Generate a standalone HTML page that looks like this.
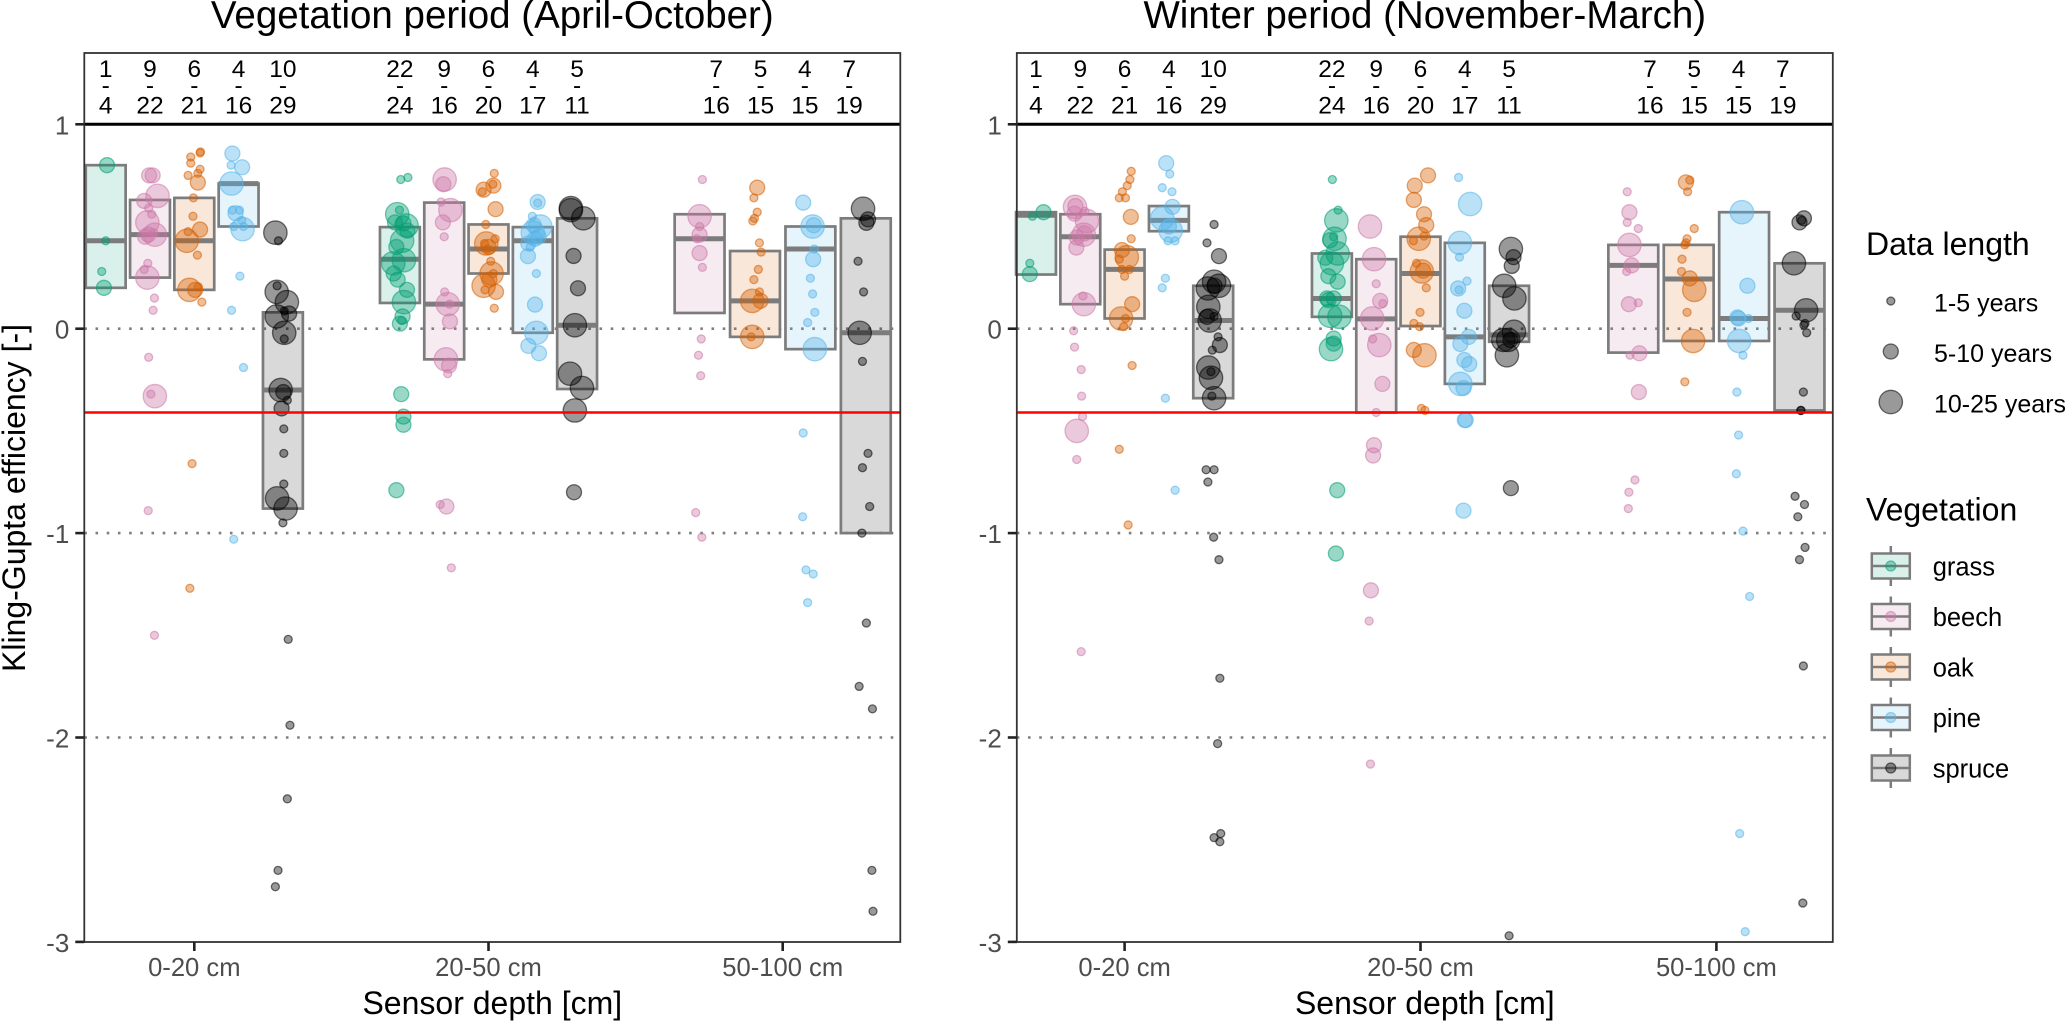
<!DOCTYPE html>
<html lang="en">
<head>
<meta charset="utf-8">
<title>Kling-Gupta efficiency by sensor depth and vegetation</title>
<style>
html,body{margin:0;padding:0;background:#fff;}
svg{display:block;font-family:"Liberation Sans",Arial,sans-serif;}
</style>
</head>
<body>
<svg id="chart" xmlns="http://www.w3.org/2000/svg" width="2067" height="1021" viewBox="0 0 2067 1021"></svg>
<script>
/* ---------- categories, ticks and labels ---------- */
const depthLabels = ['0-20 cm', '20-50 cm', '50-100 cm'];
const vegetation = ['grass', 'beech', 'oak', 'pine', 'spruce'];
const vegColors = ['#009E73', '#CC79A7', '#D55E00', '#56B4E9', '#000000'];
const yTickValues = [1, 0, -1, -2, -3];
const dottedRefs = [0, -1, -2];
const kgeBenchmark = -0.41;
const kgeMax = 1;
const lengthLabels = ['1-5 years', '5-10 years', '10-25 years'];
const boxDepth = [0,0,0,0,0, 1,1,1,1,1, 2,2,2,2];
const boxVeg = [0,1,2,3,4, 0,1,2,3,4, 1,2,3,4];
const nLow = [1,9,6,4,10, 22,9,6,4,5, 7,5,4,7];
const nHigh = [4,22,21,16,29, 24,16,20,17,11, 16,15,15,19];

/* ---------- box statistics ---------- */
const vp_q3 = [.80,.63,.64,.71,.08, .497,.617,.51,.497,.54, .56,.38,.50,.54];
const vp_med = [.43,.46,.43,.71,-.30, .34,.12,.39,.43,.017, .44,.136,.39,-.02];
const vp_q1 = [.20,.25,.19,.50,-.88, .126,-.15,.27,-.02,-.295, .077,-.04,-.10,-1.0];
const wp_q3 = [.57,.56,.387,.60,.21, .368,.34,.45,.42,.21, .41,.41,.57,.32];
const wp_med = [.555,.45,.29,.53,.04, .148,.048,.27,-.04,-.03, .31,.243,.05,.09];
const wp_q1 = [.265,.12,.05,.477,-.34, .058,-.41,.013,-.27,-.064, -.117,-.06,-.06,-.40];

/* ---------- site values: kge, jitter (% of a dodge slot), data-length class ---------- */
const vp_d1_grass_kge = [.80,.43,.28,.20];
const vp_d1_grass_jit = [3,0,-9,-4];
const vp_d1_grass_len = [2,1,1,2];
const vp_d1_beech_kge = [.75,.75,.65,.625,.59,.56,.52,.46,.45,.46,.47,.32,.29,.25,.15,.09,-.14,-.33,-.32,-.89,-1.5];
const vp_d1_beech_jit = [-2,6,17,-13,-3,4,-6,11,-11,-4,9,-5,-13,-6,10,7,-3,11,2,-4,10];
const vp_d1_beech_len = [2,2,3,2,1,1,3,3,2,2,1,1,1,3,1,1,1,3,1,1,1];
const vp_d1_oak_kge = [.865,.86,.84,.81,.78,.76,.75,.715,.64,.55,.485,.475,.43,.36,.19,.19,.205,.13,-.66,-1.27];
const vp_d1_oak_jit = [14,13,-8,-8,13,8,-14,8,-2,-3,13,-14,-17,7,-11,2,9,17,-5,-10];
const vp_d1_oak_len = [1,1,1,1,1,1,1,2,1,1,2,1,3,1,3,2,1,1,1,1];
const vp_d1_pine_kge = [.857,.80,.79,.71,.58,.58,.565,.53,.50,.487,.50,.257,.09,-.19,-1.03];
const vp_d1_pine_jit = [-14,-17,8,-16,-14,2,-7,7,-11,9,11,3,-16,11,-11];
const vp_d1_pine_len = [2,1,2,3,1,1,2,1,1,3,1,1,1,1,1];
const vp_d1_spruce_kge = [.47,.43,.18,.21,.13,.087,.074,.06,-.02,-.05,-.30,-.31,-.35,-.39,-.49,-.61,-.76,-.83,-.88,-.95,-1.52,-1.94,-2.30,-2.65,-2.73];
const vp_d1_spruce_jit = [-17,-10,-14,-13,9,3,14,-14,3,3,-5,1,10,-3,2,2,2,-13,6,0,12,16,10,-11,-17];
const vp_d1_spruce_len = [3,1,3,1,3,1,2,3,3,1,3,2,1,2,1,1,1,3,3,1,1,1,1,1,1];

const vp_d2_grass_kge = [.73,.74,.56,.58,.52,.515,.505,.48,.43,.40,.32,.335,.27,.24,.19,.13,.06,.025,.04,-.32,-.43,-.47,-.79];
const vp_d2_grass_jit = [2,18,-6,-1,-11,8,15,17,5,-8,-15,9,-14,-5,16,9,6,0,4,3,8,8,-8];
const vp_d2_grass_len = [1,1,3,1,2,2,3,2,3,2,3,3,2,2,2,3,2,2,1,2,2,2,2];
const vp_d2_beech_kge = [.73,.707,.62,.58,.52,.45,.18,.12,.12,.036,-.15,-.18,-.22,-.86,-.87,-1.17];
const vp_d2_beech_jit = [1,-2,-7,14,-3,0,1,8,12,13,4,11,8,-9,5,16];
const vp_d2_beech_len = [3,2,1,3,2,1,1,3,1,2,3,2,1,1,2,1];
const vp_d2_oak_kge = [.76,.70,.707,.68,.67,.585,.51,.417,.44,.40,.417,.39,.33,.27,.27,.24,.21,.18,.19,.10];
const vp_d2_oak_jit = [13,11,10,-11,-14,16,-6,-5,15,0,-9,-2,5,7,11,2,-11,17,-8,13];
const vp_d2_oak_len = [1,2,1,2,1,2,1,3,1,2,1,1,1,3,1,2,3,2,1,1];
const vp_d2_pine_kge = [.62,.615,.55,.50,.506,.47,.45,.44,.417,.40,.355,.27,.118,-.02,-.084,-.12];
const vp_d2_pine_jit = [11,11,-1,17,2,0,13,5,-10,-6,-11,8,5,8,-10,14];
const vp_d2_pine_len = [2,1,1,3,2,3,2,2,2,1,2,1,2,3,2,2];
const vp_d2_spruce_kge = [.59,.58,.54,.356,.198,.017,-.22,-.29,-.40,-.80];
const vp_d2_spruce_jit = [-14,-14,14,-8,2,-5,-16,11,-5,-7];
const vp_d2_spruce_len = [3,3,3,2,2,3,3,3,3,2];

const vp_d3_beech_kge = [.73,.55,.46,.37,.44,.50,.30,-.05,-.13,-.23,-.90,-1.02];
const vp_d3_beech_jit = [5,0,0,0,-5,0,5,3,-2,2,-7,4];
const vp_d3_beech_len = [1,3,2,2,1,1,1,1,1,1,1,1];
const vp_d3_oak_kge = [.69,.64,.57,.54,.527,.42,.375,.29,.24,.18,.136,.136,-.04,-.04];
const vp_d3_oak_jit = [4,-2,4,-1,-4,8,11,6,-2,8,10,-5,-5,-7];
const vp_d3_oak_len = [2,1,1,1,1,1,1,1,1,1,2,3,3,1];
const vp_d3_pine_kge = [.617,.50,.506,.39,.34,.247,.17,.08,.03,-.10,-.51,-.92,-1.18,-1.2,-1.34];
const vp_d3_pine_jit = [-13,4,6,7,5,0,4,8,-5,8,-13,-14,-8,5,-5];
const vp_d3_pine_len = [2,3,2,1,2,1,1,1,1,3,1,1,1,1,1];
const vp_d3_spruce_kge = [.587,.535,.518,.33,.18,-.02,-.16,-.61,-.68,-.87,-1.0,-1.44,-1.75,-1.86,-2.65,-2.85];
const vp_d3_spruce_jit = [-5,4,1,-14,-4,-11,-6,4,-6,7,-7,1,-12,12,11,13];
const vp_d3_spruce_len = [3,2,2,1,1,3,1,1,1,1,1,1,1,1,1,1];

const wp_d1_grass_kge = [.55,.57,.32,.267];
const wp_d1_grass_jit = [-8,17,-14,-14];
const wp_d1_grass_len = [1,2,1,2];
const wp_d1_beech_kge = [.596,.60,.575,.527,.563,.466,.46,.446,.397,.16,.12,-.01,-.09,-.20,-.33,-.43,-.50,-.64,-1.58];
const wp_d1_beech_jit = [-12,-11,10,15,-13,9,8,-8,-9,6,8,-15,-13,2,3,5,-8,-8,2];
const wp_d1_beech_len = [3,2,1,3,2,2,3,2,2,1,3,1,1,1,1,1,3,1,1];
const wp_d1_oak_kge = [.77,.73,.70,.67,.64,.64,.547,.44,.385,.35,.34,.29,.29,.257,.12,.05,.05,.01,-.18,-.59,-.96];
const wp_d1_oak_jit = [15,12,6,-5,-12,2,14,15,-6,5,-12,-6,11,0,17,-8,2,-2,17,-12,8];
const wp_d1_oak_len = [1,1,1,1,1,1,2,1,2,3,1,1,1,1,2,3,1,1,1,1,1];
const wp_d1_pine_kge = [.81,.757,.69,.67,.596,.54,.48,.50,.43,.43,.247,.20,-.34,-.79];
const wp_d1_pine_jit = [-6,2,-15,7,8,-15,4,0,-2,14,-8,-15,-8,14];
const wp_d1_pine_len = [2,1,1,1,2,3,3,2,1,1,1,1,1,1];
const wp_d1_spruce_kge = [.51,.42,.355,.23,.21,.21,.197,.107,.058,.04,.06,-.04,-.08,-.105,-.19,-.24,-.21,-.34,-.33,-.69,-.69,-.75,-1.02,-1.13,-1.71,-2.03,-2.47,-2.49,-2.51];
const wp_d1_spruce_jit = [2,-14,13,2,13,3,-12,-11,-14,-8,2,11,15,-2,-11,-5,-5,2,-3,-16,2,-12,1,13,15,10,17,2,15];
const wp_d1_spruce_len = [1,1,2,3,3,2,3,3,2,3,1,1,2,1,3,3,1,3,1,1,1,1,1,1,1,1,1,1,1];

const wp_d2_grass_kge = [.73,.58,.53,.44,.45,.433,.368,.347,.32,.257,.23,.148,.148,.14,.063,.058,-.048,-.073,-.10,-.79,-1.10];
const wp_d2_grass_jit = [1,14,10,6,4,-4,13,-15,0,-8,13,-11,4,-8,-4,17,4,4,-2,12,9];
const wp_d2_grass_len = [1,1,3,3,1,2,3,2,3,2,2,2,2,2,3,3,2,2,3,2,2];
const wp_d2_beech_kge = [.5,.34,.22,.136,.123,.05,-.08,-.05,-.27,-.41,-.57,-.62,-1.28,-1.43,-2.13];
const wp_d2_beech_jit = [-14,-5,0,9,15,-9,7,-8,14,0,-5,-7,-12,-16,-13];
const wp_d2_beech_len = [3,3,1,2,1,3,3,1,2,1,2,2,2,1,1];
const wp_d2_oak_kge = [.75,.70,.63,.56,.507,.44,.43,.453,.32,.28,.284,.2,.08,.026,.01,-.104,-.13,-.39,-.40];
const wp_d2_oak_jit = [17,-13,-15,8,13,-4,-16,8,-9,3,6,13,-1,-15,-2,-15,9,2,10];
const wp_d2_oak_len = [2,2,2,2,2,3,1,1,1,3,2,1,1,1,1,2,3,1,1];
const wp_d2_pine_kge = [.74,.61,.42,.35,.197,.233,.19,.088,-.04,-.075,-.153,-.173,-.27,-.29,-.447,-.447,-.89];
const wp_d2_pine_jit = [-14,12,-11,-12,-15,5,-13,-1,9,-10,-1,10,-10,-3,0,2,-3];
const wp_d2_pine_len = [1,3,3,1,2,1,1,2,2,2,2,2,3,2,2,2,2];
const wp_d2_spruce_kge = [.39,.35,.307,.21,.148,-.015,-.055,-.055,-.13,-.055,-.78,-2.97];
const wp_d2_spruce_jit = [4,10,6,-11,12,11,-13,-2,-5,3,4,0];
const wp_d2_spruce_len = [3,2,2,3,3,3,3,3,3,2,2,1];

const wp_d3_beech_kge = [.67,.57,.52,.49,.41,.31,.28,.12,.127,-.12,-.13,-.31,-.74,-.8,-.88];
const wp_d3_beech_jit = [-11,-7,-11,9,-7,-3,-12,-8,9,11,-6,10,3,-8,-9];
const wp_d3_beech_len = [1,2,1,1,3,2,1,2,1,2,1,2,1,1,1];
const wp_d3_oak_kge = [.716,.727,.67,.49,.44,.41,.42,.34,.28,.246,.19,.08,-.06,-.26];
const wp_d3_oak_jit = [-5,2,-2,10,-3,-7,-5,-12,-13,2,10,-3,8,-7];
const wp_d3_oak_len = [2,1,1,1,1,1,1,1,1,2,3,1,3,1];
const wp_d3_pine_kge = [.57,.21,.055,.05,.05,-.06,-.13,-.31,-.52,-.71,-.99,-1.31,-2.47,-2.95];
const wp_d3_pine_jit = [-4,6,-12,-10,8,-9,-2,-13,-10,-14,-2,10,-8,2];
const wp_d3_pine_len = [3,2,2,2,1,3,1,1,1,1,1,1,1,1];
const wp_d3_spruce_kge = [.54,.52,.53,.32,.09,.062,.026,.018,-.02,-.31,-.40,-.40,-.82,-.86,-.92,-1.07,-1.13,-1.65,-2.81];
const wp_d3_spruce_jit = [8,0,4,-10,12,-6,10,8,13,7,2,3,-8,9,-3,10,0,7,6];
const wp_d3_spruce_len = [2,2,1,3,3,1,1,1,1,1,1,1,1,1,1,1,1,1,1];

/* series references in box order */
const vp_kge = [vp_d1_grass_kge,vp_d1_beech_kge,vp_d1_oak_kge,vp_d1_pine_kge,vp_d1_spruce_kge,vp_d2_grass_kge,vp_d2_beech_kge,vp_d2_oak_kge,vp_d2_pine_kge,vp_d2_spruce_kge,vp_d3_beech_kge,vp_d3_oak_kge,vp_d3_pine_kge,vp_d3_spruce_kge];
const vp_jit = [vp_d1_grass_jit,vp_d1_beech_jit,vp_d1_oak_jit,vp_d1_pine_jit,vp_d1_spruce_jit,vp_d2_grass_jit,vp_d2_beech_jit,vp_d2_oak_jit,vp_d2_pine_jit,vp_d2_spruce_jit,vp_d3_beech_jit,vp_d3_oak_jit,vp_d3_pine_jit,vp_d3_spruce_jit];
const vp_len = [vp_d1_grass_len,vp_d1_beech_len,vp_d1_oak_len,vp_d1_pine_len,vp_d1_spruce_len,vp_d2_grass_len,vp_d2_beech_len,vp_d2_oak_len,vp_d2_pine_len,vp_d2_spruce_len,vp_d3_beech_len,vp_d3_oak_len,vp_d3_pine_len,vp_d3_spruce_len];
const wp_kge = [wp_d1_grass_kge,wp_d1_beech_kge,wp_d1_oak_kge,wp_d1_pine_kge,wp_d1_spruce_kge,wp_d2_grass_kge,wp_d2_beech_kge,wp_d2_oak_kge,wp_d2_pine_kge,wp_d2_spruce_kge,wp_d3_beech_kge,wp_d3_oak_kge,wp_d3_pine_kge,wp_d3_spruce_kge];
const wp_jit = [wp_d1_grass_jit,wp_d1_beech_jit,wp_d1_oak_jit,wp_d1_pine_jit,wp_d1_spruce_jit,wp_d2_grass_jit,wp_d2_beech_jit,wp_d2_oak_jit,wp_d2_pine_jit,wp_d2_spruce_jit,wp_d3_beech_jit,wp_d3_oak_jit,wp_d3_pine_jit,wp_d3_spruce_jit];
const wp_len = [wp_d1_grass_len,wp_d1_beech_len,wp_d1_oak_len,wp_d1_pine_len,wp_d1_spruce_len,wp_d2_grass_len,wp_d2_beech_len,wp_d2_oak_len,wp_d2_pine_len,wp_d2_spruce_len,wp_d3_beech_len,wp_d3_oak_len,wp_d3_pine_len,wp_d3_spruce_len];

/* ---------- drawing ---------- */
const NS = 'http://www.w3.org/2000/svg';
const svg = document.getElementById('chart');
const TOP = 53, BOTTOM = 942, BOX_GRAY = '#7c7c7c', AXIS_TEXT = '#4d4d4d', LINE = '#333333';
const RADIUS = [0, 4, 7.5, 11.7];
const yScale = v => 328.7 - 204.4 * v;

function make(tag, attrs, text) {
  const el = document.createElementNS(NS, tag);
  for (const k in attrs) el.setAttribute(k, attrs[k]);
  if (text !== undefined) el.textContent = text;
  svg.appendChild(el);
  return el;
}
function drawPoint(x, y, r, color) {
  const c = make('circle', {cx:x, cy:y, r:r, fill:color, 'fill-opacity':0.4, stroke:color, 'stroke-opacity':0.55, 'stroke-width':1.3});
  return c;
}

function drawPanel(p) {
  const left = p.left, right = p.left + 816;
  const xDepth = d => p.x0 + d * p.step;
  const slotOf = d => d === 2 ? 55.4 : 44.3;
  const countOf = d => d === 2 ? 4 : 5;
  const vegIndexInDepth = i => { let n = 0; for (let j = 0; j < i; j++) if (boxDepth[j] === boxDepth[i]) n++; return n; };
  const boxX = i => xDepth(boxDepth[i]) + (vegIndexInDepth(i) - (countOf(boxDepth[i]) - 1) / 2) * slotOf(boxDepth[i]);
  const labelX = i => xDepth(boxDepth[i]) + (vegIndexInDepth(i) - (countOf(boxDepth[i]) - 1) / 2) * 44.3;

  const title = make('text', {x:(left + right) / 2, y:28, 'text-anchor':'middle', 'font-size':38.5, fill:'#000'}, p.title);
  
  

  const bg = make('rect', {x:left, y:TOP, width:816, height:BOTTOM - TOP, fill:'#fff', stroke:'none'});
  
  

  dottedRefs.forEach(v => {
    const l = make('line', {x1:left, x2:right, y1:yScale(v), y2:yScale(v), stroke:'#7f7f7f', 'stroke-width':2.6, 'stroke-dasharray':'2.6 8.6'});
    
    
  });

  p.q3.forEach((_, i) => {
    const hw = slotOf(boxDepth[i]) * 0.45, cx = boxX(i);
    const yT = yScale(p.q3[i]), yB = yScale(p.q1[i]), color = vegColors[boxVeg[i]];
    const r = make('rect', {x:cx - hw, y:yT, width:2 * hw, height:yB - yT, fill:color, 'fill-opacity':0.15, stroke:BOX_GRAY, 'stroke-width':2.7});
    
    
    const m = make('line', {x1:cx - hw, x2:cx + hw, y1:yScale(p.med[i]), y2:yScale(p.med[i]), stroke:BOX_GRAY, 'stroke-width':5});
    
    
  });

  p.kge.forEach((vals, i) => {
    vals.forEach((v, k) => {
      const cx = boxX(i) + p.jit[i][k] / 100 * slotOf(boxDepth[i]);
      const c = drawPoint(cx, yScale(v), RADIUS[p.len[i][k]], vegColors[boxVeg[i]]);
      
      
    });
  });

  const red = make('line', {x1:left, x2:right, y1:yScale(kgeBenchmark), y2:yScale(kgeBenchmark), stroke:'#ff0000', 'stroke-width':2.6});
  
  

  const blk = make('line', {x1:left, x2:right, y1:yScale(kgeMax), y2:yScale(kgeMax), stroke:'#000', 'stroke-width':3});
  
  

  const frame = make('rect', {x:left, y:TOP, width:816, height:BOTTOM - TOP, fill:'none', stroke:LINE, 'stroke-width':1.8});
  
  

  nLow.forEach((n, i) => {
    const x = labelX(i);
    const a = make('text', {x:x, y:77, 'text-anchor':'middle', 'font-size':24.5, fill:'#000'}, String(n));
    
    
    const b = make('text', {x:x, y:93.5, 'text-anchor':'middle', 'font-size':24.5, fill:'#000'}, '-');
    
    
    const c = make('text', {x:x, y:113.5, 'text-anchor':'middle', 'font-size':24.5, fill:'#000'}, String(nHigh[i]));
    
    
  });

  yTickValues.forEach(v => {
    const t = make('line', {x1:left - 9, x2:left, y1:yScale(v), y2:yScale(v), stroke:'#222', 'stroke-width':2.6});
    
    
    const l = make('text', {x:left - 15, y:yScale(v) + 10, 'text-anchor':'end', 'font-size':26, fill:AXIS_TEXT}, String(v));
    
    
  });

  depthLabels.forEach((d, i) => {
    const x = xDepth(i);
    const t = make('line', {x1:x, x2:x, y1:BOTTOM, y2:BOTTOM + 9, stroke:'#222', 'stroke-width':2.6});
    
    
    const l = make('text', {x:x, y:976, 'text-anchor':'middle', 'font-size':25.6, fill:AXIS_TEXT}, d);
    
    
  });

  const xt = make('text', {x:(left + right) / 2, y:1014, 'text-anchor':'middle', 'font-size':32, fill:'#000'}, 'Sensor depth [cm]');
  
  
}

drawPanel({key:'vegetation-period', title:'Vegetation period (April-October)', left:84.3, x0:194.3, step:294.2, q3:vp_q3, med:vp_med, q1:vp_q1, kge:vp_kge, jit:vp_jit, len:vp_len});
drawPanel({key:'winter-period', title:'Winter period (November-March)', left:1016.8, x0:1124.6, step:295.9, q3:wp_q3, med:wp_med, q1:wp_q1, kge:wp_kge, jit:wp_jit, len:wp_len});

const yTitle = make('text', {x:0, y:0, transform:'translate(25,498) rotate(-90)', 'text-anchor':'middle', 'font-size':32, fill:'#000'}, 'Kling-Gupta efficiency [-]');



/* ---------- legends ---------- */
const legTitle1 = make('text', {x:1866, y:255, 'font-size':32, fill:'#000'}, 'Data length');


lengthLabels.forEach((label, i) => {
  const cy = 301 + i * 50.5;
  const c = drawPoint(1890.8, cy, RADIUS[i + 1], '#000000');
  
  
  const t = make('text', {x:1934, y:cy + 10.5, 'font-size':25, fill:'#000'}, label);
  
  
});

const legTitle2 = make('text', {x:1866, y:520.7, 'font-size':32, fill:'#000'}, 'Vegetation');


vegetation.forEach((name, i) => {
  const cy = 566 + i * 50.5, cx = 1890.8;
  const w = make('line', {x1:cx, x2:cx, y1:cy - 20, y2:cy + 20, stroke:BOX_GRAY, 'stroke-width':2.5});
  
  
  const bgk = make('rect', {x:cx - 19, y:cy - 12.5, width:38, height:25, fill:'#fff'});
  
  
  const b = make('rect', {x:cx - 19, y:cy - 12.5, width:38, height:25, fill:vegColors[i], 'fill-opacity':0.15, stroke:BOX_GRAY, 'stroke-width':2.5});
  
  
  const m = make('line', {x1:cx - 19, x2:cx + 19, y1:cy, y2:cy, stroke:BOX_GRAY, 'stroke-width':2.5});
  
  
  const c = drawPoint(cx, cy, 5, vegColors[i]);
  
  
  const t = make('text', {x:1932.7, y:cy + 9.5, 'font-size':25.5, fill:'#000'}, name);
  
  
});
</script>
</body>
</html>
